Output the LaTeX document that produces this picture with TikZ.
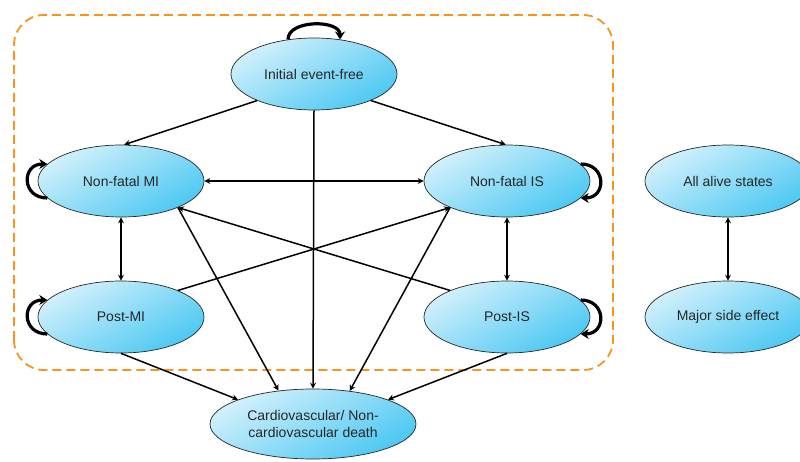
\documentclass[tikz,border=0pt]{standalone}
\usepackage{fontspec}
\setmainfont{Liberation Sans}
\usetikzlibrary{shapes.geometric,arrows.meta}

\definecolor{statelight}{HTML}{D2F0FC}
\definecolor{statedark}{HTML}{4CC8F2}
\definecolor{boxorange}{HTML}{F7941D}

\begin{document}
\begin{tikzpicture}[x=1pt,y=1pt]
    \tikzset{state/.style={ellipse,draw=black!85,line width=0.7pt,
        top color=statelight,bottom color=statedark,shading angle=30,
        minimum width=166pt,minimum height=72pt,inner sep=0pt,
        font=\fontsize{14}{17}\selectfont,text=black!85,align=center}}
    \tikzset{move/.style={line width=1.5pt,-{Stealth[length=6pt,width=6pt]}}}
    \tikzset{both/.style={line width=1.5pt,{Stealth[length=6pt,width=6pt]}-{Stealth[length=6pt,width=6pt]}}}
    \tikzset{stay/.style={line width=3.2pt,-{Stealth[length=8pt,width=10pt]}}}
    \useasboundingbox (0,0) rectangle (800,461);
    \draw[boxorange,line width=1.8pt,dash pattern=on 9pt off 5pt,rounded corners=30pt]
        (14,91) rectangle (613,446);
    % states
    \node[state] (init) at (314,387) {Initial event-free};
    \node[state] (mi) at (121,280) {Non-fatal MI};
    \node[state] (is) at (507,280) {Non-fatal IS};
    \node[state] (pmi) at (121,144) {Post-MI};
    \node[state] (pis) at (507,144) {Post-IS};
    \node[state,minimum width=206pt,minimum height=70pt] (death) at (313,37)
        {Cardiovascular/ Non-\\cardiovascular death};
    \node[state] (alive) at (728,280) {All alive states};
    \node[state] (side) at (728,144) {Major side effect};
    % staying in the same state
    \draw[stay] (init.127) .. controls +(0,20) and +(0,20) .. (init.53);
    \draw[stay] (mi.193) .. controls +(-26,0) and +(-26,0) .. (mi.167);
    \draw[stay] (pmi.193) .. controls +(-26,0) and +(-26,0) .. (pmi.167);
    \draw[stay] (is.13) .. controls +(26,0) and +(26,0) .. (is.347);
    \draw[stay] (pis.13) .. controls +(26,0) and +(26,0) .. (pis.347);
    % transitions
    \draw[move] (init.205) -- (mi.85);
    \draw[move] (init.335) -- (is.92);
    \draw[move] (init.south) -- (death.north);
    \draw[both] (mi.east) -- (is.west);
    \draw[both] (mi.south) -- (pmi.north);
    \draw[both] (is.south) -- (pis.north);
    \draw[move] (pmi.25) -- (is.205);
    \draw[move] (pis.155) -- (mi.335);
    \draw[move] (mi.335) -- (death.136);
    \draw[move] (is.205) -- (death.42);
    \draw[move] (pmi.south) -- (death.162);
    \draw[move] (pis.south) -- (death.18);
    \draw[line width=2pt,{Stealth[length=6pt,width=6pt]}-{Stealth[length=6pt,width=6pt]}]
        (alive.south) -- (side.north);
\end{tikzpicture}
\end{document}
